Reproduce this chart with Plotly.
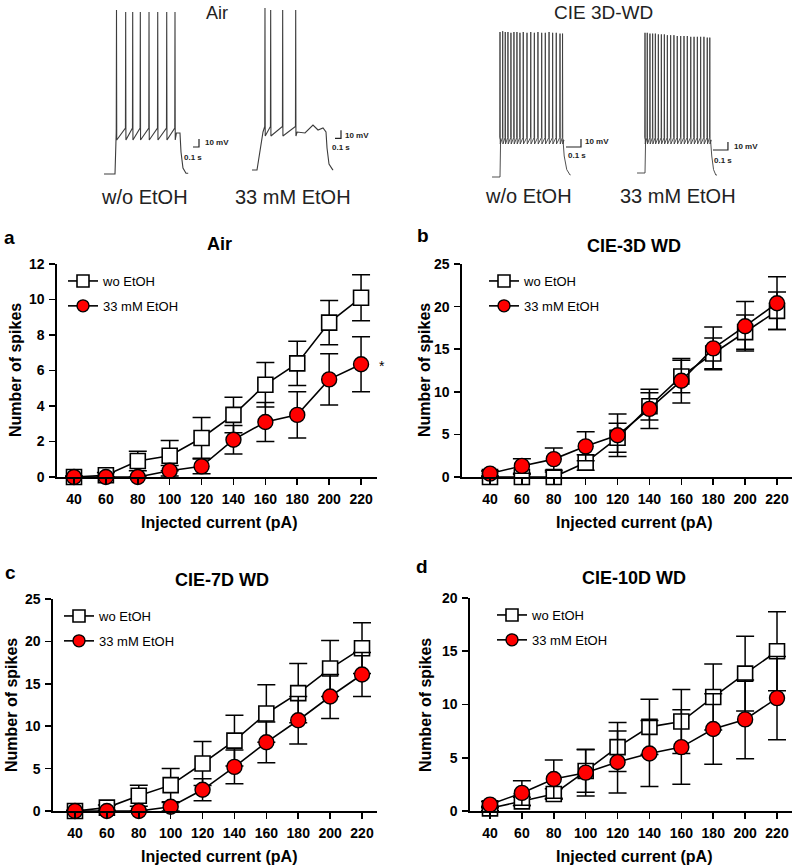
import plotly.graph_objects as go

# ---------------- data ----------------
currents = [40, 60, 80, 100, 120, 140, 160, 180, 200, 220]

air_wo = [0, 0.1, 0.9, 1.2, 2.2, 3.5, 5.2, 6.4, 8.7, 10.1]
air_wo_err = [0.05, 0.15, 0.55, 0.85, 1.15, 1.0, 1.25, 1.25, 1.25, 1.3]
air_et = [0, 0, 0, 0.35, 0.6, 2.1, 3.1, 3.5, 5.5, 6.35]
air_et_err = [0, 0, 0, 0.3, 0.42, 0.8, 1.1, 1.3, 1.45, 1.55]

cie3_wo = [0, 0, 0, 1.7, 4.6, 8.3, 11.8, 14.5, 17.0, 19.5]
cie3_wo_err = [0.1, 0.3, 0.6, 0.9, 1.7, 1.6, 1.9, 1.8, 2.0, 2.2]
cie3_et = [0.4, 1.3, 2.1, 3.6, 4.9, 8.0, 11.3, 15.1, 17.7, 20.4]
cie3_et_err = [0.3, 0.85, 1.3, 1.7, 2.5, 2.3, 2.6, 2.5, 2.9, 3.1]

cie7_wo = [0, 0.4, 1.8, 3.05, 5.6, 8.3, 11.5, 13.9, 16.8, 19.2]
cie7_wo_err = [0.1, 0.3, 1.25, 1.95, 2.6, 3.0, 3.4, 3.5, 3.3, 3.0]
cie7_et = [0, 0, 0, 0.5, 2.5, 5.2, 8.1, 10.7, 13.5, 16.1]
cie7_et_err = [0, 0, 0, 0.5, 1.3, 2.0, 2.4, 2.8, 2.6, 2.6]

cie10_wo = [0.25, 0.9, 1.6, 3.75, 6.0, 7.9, 8.4, 10.7, 12.9, 15.0]
cie10_wo_err = [0.2, 0.4, 0.5, 2.0, 2.3, 2.6, 3.0, 3.1, 3.5, 3.7]
cie10_et = [0.6, 1.7, 3.0, 3.6, 4.6, 5.4, 6.0, 7.7, 8.6, 10.6]
cie10_et_err = [0.3, 1.15, 1.8, 2.2, 2.9, 3.1, 3.5, 3.3, 3.7, 3.9]

series_names = ["wo EtOH", "33 mM EtOH"]
panel_titles = ["Air", "CIE-3D WD", "CIE-7D WD", "CIE-10D WD"]
panel_letters = ["a", "b", "c", "d"]

# example recordings (time in s, membrane potential in mV)
air_wo_spikes = [0.275, 0.428, 0.545, 0.672, 0.817, 0.962, 1.112, 1.25]
air_wo_peaks = [137.5, 135, 135, 135, 135, 135, 135, 135]
air_et_spikes = [0.333, 0.428, 0.628, 0.845]
air_et_peaks = [140, 137.5, 137.5, 137.5]
air_et_tail_t = [1.0, 1.133, 1.217, 1.3]
air_et_tail_v = [-16.25, -6.25, -12.5, -10]
cie_wo_spikes = [0.080, 0.098, 0.115, 0.133, 0.153, 0.173, 0.193, 0.213, 0.235, 0.26,
                 0.285, 0.309, 0.333, 0.358, 0.382, 0.407, 0.431, 0.455, 0.48, 0.497]
cie_wo_peaks = [110, 111, 110, 110, 109, 110, 110, 109, 110, 109,
                110, 109, 110, 109, 109, 110, 109, 109, 108, 108]
cie_et_spikes = [0.08, 0.095, 0.113, 0.131, 0.149, 0.169, 0.189, 0.209, 0.229, 0.251, 0.273,
                 0.295, 0.318, 0.34, 0.362, 0.385, 0.407, 0.429, 0.451, 0.473, 0.495, 0.512]
cie_et_peaks = [109, 109, 108, 108, 108, 107, 107, 107, 106, 106, 106,
                105, 105, 105, 105, 104, 104, 104, 104, 104, 103, 103]

group_titles = ["Air", "CIE 3D-WD"]
condition_labels = ["w/o EtOH", "33 mM EtOH"]
scale_labels = ["10 mV", "0.1 s"]

# ---------------- helpers ----------------
W, H = 796, 866
FONT = "Liberation Sans, Arial, Helvetica, sans-serif"
RED = "#ff0000"


def fx(p):
    return p / W


def fy(p):
    return 1 - p / H


def waveform(t0, t_on, t_rise, v_base0, v_plat, v_pre, v_ahp, spikes, peaks, w,
             tail_t, tail_v, t_off, decay_t, decay_v, t_end):
    t = [t0, t_on, t_on + t_rise]
    v = [v_base0, v_base0, v_plat]
    for ts, vp in zip(spikes, peaks):
        t += [ts - w, ts, ts + w]
        v += [v_pre, vp, v_ahp]
    t += [spikes[-1] + 6 * w]
    v += [v_plat]
    t += list(tail_t)
    v += list(tail_v)
    t += [t_off] + [t_off + d for d in decay_t] + [t_end]
    v += [v_plat] + list(decay_v) + [decay_v[-1]]
    return t, v


fig = go.Figure()

# ---------------- example recordings ----------------
trace_color = "#3c3c3c"
recs = [
    ("x5", waveform(0.067, 0.25, 0.02, -67.5, -16.25, -10, -25, air_wo_spikes, air_wo_peaks, 0.004,
                    [], [], 1.333, [0.017, 0.05, 0.1], [-40, -60, -66.5], 1.47), 1.1),
    ("x6", waveform(0.117, 0.2, 0.1, -62.5, -15, -8, -20, air_et_spikes, air_et_peaks, 0.004,
                    air_et_tail_t, air_et_tail_v, 1.35, [0.017, 0.05, 0.11], [-35, -55, -62], 1.47), 1.1),
    ("x7", waveform(0.027, 0.08, 0.004, -71.25, -25, -22, -30, cie_wo_spikes, cie_wo_peaks, 0.0016,
                    [], [], 0.5, [0.008, 0.025, 0.047], [-45, -62, -68.75], 0.55), 0.9),
    ("x8", waveform(0.027, 0.08, 0.004, -66.25, -25, -22, -30, cie_et_spikes, cie_et_peaks, 0.0016,
                    [], [], 0.517, [0.008, 0.02, 0.035], [-45, -62, -68.75], 0.56), 0.9),
]
for xa, (tt, vv), lw in recs:
    fig.add_trace(go.Scatter(x=tt, y=vv, xaxis=xa, yaxis="y5", mode="lines",
                             line=dict(color=trace_color, width=lw), showlegend=False,
                             hoverinfo="skip"))

# scale bars: (axis, t_start, t_end, v_low)
bars = [("x5", 1.55, 1.65, -33.75), ("x6", 1.5, 1.6, -22.9),
        ("x7", 0.52, 0.62, -33.75), ("x8", 0.533, 0.633, -37.5)]
for xa, t1, t2, vl in bars:
    fig.add_trace(go.Scatter(x=[t1, t2, t2], y=[vl, vl, vl + 10], xaxis=xa, yaxis="y5",
                             mode="lines", line=dict(color="#222", width=1.2),
                             showlegend=False, hoverinfo="skip"))

# ---------------- summary panels ----------------
panels = [
    dict(xa="x", ya="y", leg="legend", xdom=(57, 377), ydom=(264, 477), xr=(29.34, 230.0), yr=(0, 12), dt=2,
         wo=air_wo, woe=air_wo_err, et=air_et, ete=air_et_err),
    dict(xa="x2", ya="y2", leg="legend2", xdom=(462, 792), ydom=(264, 477), xr=(22.44, 229.4), yr=(0, 25), dt=5,
         wo=cie3_wo, woe=cie3_wo_err, et=cie3_et, ete=cie3_et_err),
    dict(xa="x3", ya="y3", leg="legend3", xdom=(53, 377), ydom=(599, 811), xr=(26.2, 229.4), yr=(0, 25), dt=5,
         wo=cie7_wo, woe=cie7_wo_err, et=cie7_et, ete=cie7_et_err),
    dict(xa="x4", ya="y4", leg="legend4", xdom=(470, 792), ydom=(598, 811), xr=(27.46, 229.4), yr=(0, 20), dt=5,
         wo=cie10_wo, woe=cie10_wo_err, et=cie10_et, ete=cie10_et_err),
]

wo_marker = dict(symbol="square", color="white", line=dict(color="black", width=1.6))
et_marker = dict(symbol="circle", color=RED, line=dict(color="black", width=1.4))

for p in panels:
    fig.add_trace(go.Scatter(
        x=currents, y=p["wo"], xaxis=p["xa"], yaxis=p["ya"], name=series_names[0],
        mode="lines+markers", cliponaxis=False, showlegend=False,
        line=dict(color="black", width=1.6), marker=dict(size=15, **wo_marker),
        error_y=dict(type="data", array=p["woe"], visible=True, color="black", thickness=1.5, width=9),
    ))
    fig.add_trace(go.Scatter(
        x=currents, y=p["et"], xaxis=p["xa"], yaxis=p["ya"], name=series_names[1],
        mode="lines+markers", cliponaxis=False, showlegend=False,
        line=dict(color="black", width=1.6), marker=dict(size=15, **et_marker),
        error_y=dict(type="data", array=p["ete"], visible=True, color="black", thickness=1.5, width=9),
    ))
    # legend entries (smaller symbols, as in the figure key)
    for k, mk in enumerate([wo_marker, et_marker]):
        fig.add_trace(go.Scatter(
            x=[None], y=[None], xaxis=p["xa"], yaxis=p["ya"], name=series_names[k], legend=p["leg"],
            legendgroup=f"{p['leg']}_{k}", mode="lines+markers", showlegend=True,
            line=dict(color="black", width=1.6), marker=dict(size=12, **mk),
        ))

layout = dict(
    width=W, height=H, margin=dict(l=0, r=0, t=0, b=0, autoexpand=False),
    paper_bgcolor="white", plot_bgcolor="white",
    font=dict(family=FONT, color="black"),
    showlegend=True,
)

tickfont = dict(family=FONT, size=14, color="black", weight="bold")
for i, p in enumerate(panels):
    xkey = "xaxis" if i == 0 else f"xaxis{i + 1}"
    ykey = "yaxis" if i == 0 else f"yaxis{i + 1}"
    layout[xkey] = dict(domain=[fx(p["xdom"][0]), fx(p["xdom"][1])], range=list(p["xr"]),
                        anchor=p["ya"], showline=True, linecolor="black", linewidth=1.6,
                        ticks="outside", ticklen=6, tickwidth=1.6, tickcolor="black",
                        tickmode="array", tickvals=currents, showgrid=False, zeroline=False,
                        tickfont=tickfont, ticklabelstandoff=3, fixedrange=True, automargin=False)
    layout[ykey] = dict(domain=[fy(p["ydom"][1]), fy(p["ydom"][0])], range=list(p["yr"]),
                        anchor=p["xa"], showline=True, linecolor="black", linewidth=1.6,
                        ticks="outside", ticklen=6, tickwidth=1.6, tickcolor="black",
                        dtick=p["dt"], tick0=0, showgrid=False, zeroline=False,
                        tickfont=tickfont, ticklabelstandoff=2, fixedrange=True, automargin=False)
    legkey = "legend" if i == 0 else f"legend{i + 1}"
    lx = p["xdom"][0] + (6 if i in (0, 2) else 22)
    ly = p["ydom"][0] + 2
    layout[legkey] = dict(x=fx(lx), y=fy(ly), xanchor="left", yanchor="top",
                          bgcolor="rgba(0,0,0,0)", borderwidth=0,
                          font=dict(family=FONT, size=13, color="black"),
                          tracegroupgap=5, traceorder="grouped")

# hidden axes for the example recordings
rec_dom = [(100, 208, 1.8), (245, 353, 1.8), (488, 596, 0.72), (633, 741, 0.72)]
for j, (a, b, tr) in enumerate(rec_dom):
    layout[f"xaxis{j + 5}"] = dict(domain=[fx(a), fx(b)], range=[0, tr], visible=False,
                                   anchor="y5", fixedrange=True)
layout["yaxis5"] = dict(domain=[fy(185), 1], range=[-81.25, 150], visible=False,
                        anchor="x5", fixedrange=True)

fig.update_layout(**layout)

ann = []


def add_text(text, x, y, size, bold=False, angle=0, xanchor="center", xref="paper", yref="paper",
             color="black", yanchor="middle"):
    ann.append(dict(text=text, x=x, y=y, xref=xref, yref=yref, showarrow=False,
                    xanchor=xanchor, yanchor=yanchor, textangle=angle,
                    font=dict(family=FONT, size=size, color=color, weight="bold" if bold else "normal")))


# top labels
add_text(group_titles[0], fx(217), fy(13), 18, color="#222")
add_text(group_titles[1], fx(603), fy(13), 19, color="#222")
add_text(condition_labels[0], fx(144), fy(197), 20, color="#222")
add_text(condition_labels[1], fx(293), fy(197), 20, color="#222")
add_text(condition_labels[0], fx(528), fy(196), 20, color="#222")
add_text(condition_labels[1], fx(678), fy(196), 20, color="#222")

# scale bar labels (in recording coordinates)
sl = [("x5", 1.717, -27.5, 1.558, -46.25), ("x6", 1.633, -18.75, 1.6, -33.75),
      ("x7", 0.633, -26.25, 0.593, -43.75), ("x8", 0.658, -32.5, 0.597, -50)]
for xa, tmv, vmv, ts, vs in sl:
    add_text(scale_labels[0], tmv, vmv, 8, bold=True, xanchor="left", xref=xa, yref="y5", color="#222")
    add_text(scale_labels[1], ts, vs, 8, bold=True, xanchor="center", xref=xa, yref="y5", color="#222")

letters_pos = [(9, 237), (423, 236), (10, 572), (422, 566)]
titles_pos = [(219, 244), (634, 246), (222, 580), (634, 578)]
ytitle_pos = [(15, 370), (424, 370), (11, 705), (425, 705)]
xtitle_pos = [(219, 522), (634, 522), (219, 856), (634, 856)]
for i in range(4):
    add_text(panel_letters[i], fx(letters_pos[i][0]), fy(letters_pos[i][1]), 19, bold=True)
    add_text(panel_titles[i], fx(titles_pos[i][0]), fy(titles_pos[i][1]), 18, bold=True)
    add_text("Number of spikes", fx(ytitle_pos[i][0]), fy(ytitle_pos[i][1]), 16, bold=True, angle=-90)
    add_text("Injected current (pA)", fx(xtitle_pos[i][0]), fy(xtitle_pos[i][1]), 16, bold=True)

# significance marker
ann.append(dict(text="*", x=currents[-1], y=air_et[-1], xref="x", yref="y", xshift=21, yshift=-2,
                showarrow=False, font=dict(family=FONT, size=14, color="black")))

fig.update_layout(annotations=ann)
fig.write_html("out.html",
               config={"displayModeBar": False, "staticPlot": True},
               post_script="document.body.style.margin='0';document.body.style.padding='0';"
                           "document.body.style.overflow='hidden';")
